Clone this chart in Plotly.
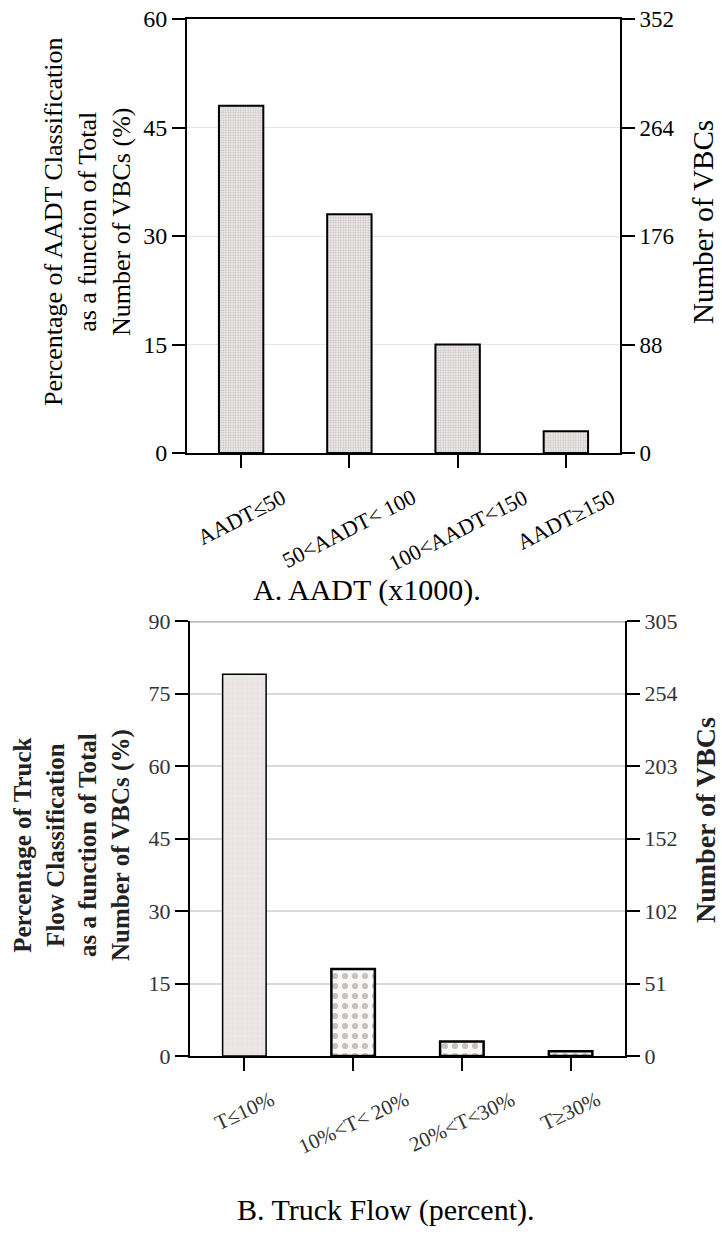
import plotly.graph_objects as go

# ---- data ----
aadt_cats = ["AADT≤50", "50<AADT< 100", "100<AADT<150", "AADT≥150"]
aadt_pct = [48, 33, 15, 3]
aadt_left_ticks = [0, 15, 30, 45, 60]
aadt_right_ticks = ["0", "88", "176", "264", "352"]

truck_cats = ["T≤10%", "10%<T< 20%", "20%<T<30%", "T≥30%"]
truck_pct = [79, 18, 3, 1]
truck_left_ticks = [0, 15, 30, 45, 60, 75, 90]
truck_right_ticks = ["0", "51", "102", "152", "203", "254", "305"]

W, H = 722, 1237
SERIF = "Liberation Serif, Times New Roman, serif"


def px_x(p):
    return p / W


def px_y(p):
    return 1 - p / H


fig = go.Figure()

# Chart A
fig.add_trace(go.Bar(
    x=aadt_cats, y=aadt_pct, xaxis="x", yaxis="y", width=0.41,
    marker=dict(color="#e2dede",
                line=dict(color="black", width=2),
                pattern=dict(shape=".", size=2.5, solidity=0.3,
                             fgcolor="#9a9595", bgcolor="#ebe7e7")),
    showlegend=False, hoverinfo="skip"))
fig.add_trace(go.Scatter(x=aadt_cats, y=aadt_pct, xaxis="x", yaxis="y2",
                         mode="none", showlegend=False, hoverinfo="skip"))

# Chart B
fig.add_trace(go.Bar(
    x=truck_cats, y=truck_pct, xaxis="x2", yaxis="y3", width=0.4,
    marker=dict(color="#ebe5e6",
                line=dict(color="black", width=[1.5, 2.5, 2.5, 2.5]),
                pattern=dict(shape=["+", ".", ".", "."],
                             size=[5, 10, 10, 10],
                             solidity=[0.15, 0.3, 0.3, 0.3],
                             fgcolor=["#dcd3d4", "#958a8b", "#958a8b", "#958a8b"],
                             bgcolor=["#ece6e7", "#fbf8f8", "#fbf8f8", "#fbf8f8"])),
    showlegend=False, hoverinfo="skip"))
fig.add_trace(go.Scatter(x=truck_cats, y=truck_pct, xaxis="x2", yaxis="y4",
                         mode="none", showlegend=False, hoverinfo="skip"))

axis_common = dict(showline=True, linecolor="black", linewidth=2,
                   ticks="outside", ticklen=13, tickwidth=2, tickcolor="black",
                   automargin=False)

fig.update_layout(
    width=W, height=H,
    margin=dict(l=0, r=0, t=0, b=0, autoexpand=False),
    paper_bgcolor="white", plot_bgcolor="white",
    font=dict(family=SERIF, color="black"),
    bargap=0.5,
    xaxis=dict(domain=[px_x(187), px_x(620)], anchor="y",
               range=[-0.5, 3.5], type="category",
               showticklabels=False, mirror=True, showgrid=False,
               **axis_common),
    yaxis=dict(domain=[px_y(453), px_y(19)], anchor="x",
               range=[0, 60], tickvals=aadt_left_ticks,
               tickfont=dict(size=24, family=SERIF, color="black"),
               showgrid=True, gridcolor="#e6e6e6", gridwidth=1,
               zeroline=False, **axis_common),
    yaxis2=dict(domain=[px_y(453), px_y(19)], anchor="x", overlaying="y",
                side="right", range=[0, 60], tickvals=aadt_left_ticks,
                ticktext=aadt_right_ticks,
                tickfont=dict(size=23, family=SERIF, color="black"),
                showgrid=False, zeroline=False, **axis_common),
    xaxis2=dict(domain=[px_x(190), px_x(625)], anchor="y3",
                range=[-0.5, 3.5], type="category",
                showticklabels=False, showgrid=False,
                **axis_common),
    yaxis3=dict(domain=[px_y(1056), px_y(621)], anchor="x2",
                range=[0, 90], tickvals=truck_left_ticks,
                tickfont=dict(size=22, family=SERIF, color="#333333"),
                showgrid=True, gridcolor="#d9d9d9", gridwidth=1.5,
                zeroline=False, **axis_common),
    yaxis4=dict(domain=[px_y(1056), px_y(621)], anchor="x2", overlaying="y3",
                side="right", range=[0, 90], tickvals=truck_left_ticks,
                ticktext=truck_right_ticks,
                tickfont=dict(size=22, family=SERIF, color="#333333"),
                showgrid=False, zeroline=False, **axis_common),
)

# gray top border of chart B
fig.add_shape(type="line", xref="x2 domain", yref="y3", x0=0, x1=1, y0=90, y1=90,
              line=dict(color="#bdbdbd", width=3.5))

ann = []
# rotated category labels
for c in aadt_cats:
    ann.append(dict(x=c, xref="x", y=px_y(482), yref="paper", text=c,
                    textangle=-27, showarrow=False, xanchor="center", yanchor="top",
                    font=dict(size=22, family=SERIF, color="black")))
for c in truck_cats:
    ann.append(dict(x=c, xref="x2", y=px_y(1084), yref="paper", text=c,
                    textangle=-25, showarrow=False, xanchor="center", yanchor="top",
                    font=dict(size=21, family=SERIF, color="#333333")))

# axis titles
ann.append(dict(x=px_x(87), y=px_y(222), xref="paper", yref="paper",
                text="Percentage of AADT Classification<br>as a function of Total<br>Number of VBCs (%)",
                textangle=-90, showarrow=False, xanchor="center", yanchor="middle",
                font=dict(size=26, family=SERIF, color="black")))
ann.append(dict(x=px_x(703), y=px_y(222), xref="paper", yref="paper",
                text="Number of VBCs", textangle=-90, showarrow=False,
                xanchor="center", yanchor="middle",
                font=dict(size=29, family=SERIF, color="black")))
ann.append(dict(x=px_x(72), y=px_y(845), xref="paper", yref="paper",
                text="<b>Percentage of Truck<br>Flow Classification<br>as a function of Total<br>Number of VBCs (%)</b>",
                textangle=-90, showarrow=False, xanchor="center", yanchor="middle",
                font=dict(size=25, family=SERIF, color="#222222")))
ann.append(dict(x=px_x(705), y=px_y(820), xref="paper", yref="paper",
                text="<b>Number of VBCs</b>", textangle=-90, showarrow=False,
                xanchor="center", yanchor="middle",
                font=dict(size=28, family=SERIF, color="#222222")))

# captions
ann.append(dict(x=px_x(367), y=px_y(590), xref="paper", yref="paper",
                text="A. AADT (x1000).", showarrow=False,
                xanchor="center", yanchor="middle",
                font=dict(size=30, family=SERIF, color="black")))
ann.append(dict(x=px_x(385), y=px_y(1210), xref="paper", yref="paper",
                text="B. Truck Flow (percent).", showarrow=False,
                xanchor="center", yanchor="middle",
                font=dict(size=30, family=SERIF, color="black")))

fig.update_layout(annotations=ann)

fig.write_html("out.html")
